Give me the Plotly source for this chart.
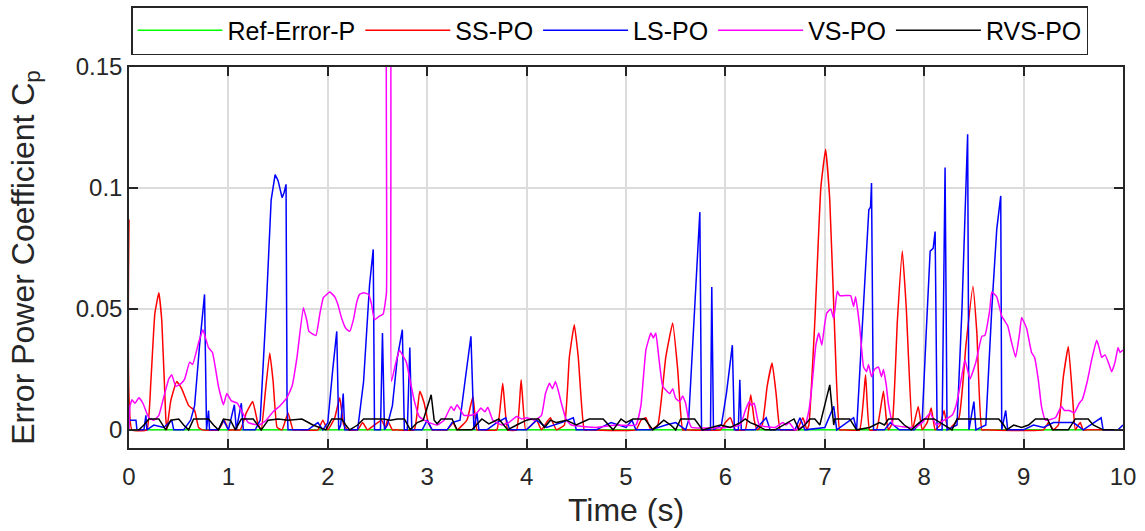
import plotly.graph_objects as go

# ---------------- data (time in s, error power coefficient Cp) ----------------
ref_t = [0.0, 10.0]
ref_v = [0.0, 0.0]

ss_t = [0, 0.03, 0.18, 0.22, 0.26, 0.30, 0.33, 0.37, 0.38, 0.42, 0.48, 0.53, 0.6, 0.66, 0.7, 0.74, 0.9, 0.96, 1.0,
        1.04, 1.12, 1.18, 1.245, 1.3, 1.33, 1.37, 1.416, 1.45, 1.49, 1.54, 1.6, 1.65, 1.69, 1.9, 1.95, 2.0, 2.07,
        2.12, 2.16, 2.2, 2.3, 2.35, 2.4, 2.54, 2.58, 2.6, 2.65, 2.69, 2.87, 2.925, 2.97, 3.01, 3.05, 3.09, 3.2,
        3.26, 3.3, 3.4, 3.46, 3.5, 3.54, 3.7, 3.76, 3.81, 3.9, 3.945, 3.99, 4.05, 4.1, 4.15, 4.2, 4.24, 4.3, 4.38,
        4.43, 4.48, 4.52, 4.58, 4.62, 5.1, 5.15, 5.2, 5.25, 5.32, 5.4, 5.47, 5.52, 5.57, 5.61, 5.95, 6.0, 6.05,
        6.1, 6.2, 6.255, 6.29, 6.32, 6.37, 6.42, 6.47, 6.51, 6.55, 6.59, 6.72, 6.78, 6.82, 6.84, 6.9, 6.96, 7.008,
        7.05, 7.1, 7.15, 7.19, 7.35, 7.41, 7.45, 7.52, 7.59, 7.62, 7.64, 7.68, 7.73, 7.78, 7.82, 7.88, 7.9, 7.94,
        7.98, 8.03, 8.07, 8.11, 8.16, 8.2, 8.24, 8.35, 8.42, 8.49, 8.53, 8.58, 8.62, 9.2, 9.25, 9.3, 9.35, 9.4,
        9.45, 9.49, 9.52, 9.55, 9.57, 9.6, 9.64, 10.0]
ss_v = [0.087, 0.0, 0.0, 0.02, 0.048, 0.0567, 0.045, 0.005, 0.0, 0.012, 0.020, 0.017, 0.010, 0.008, 0.001, 0.0, 0.0, 0.004,
        0.0, 0.0, 0.0, 0.007, 0.0117, 0.002, 0.0, 0.015, 0.0318, 0.02, 0.001, 0.0, 0.007, 0.0, 0.0, 0.0, 0.004, 0.0, 0.005,
        0.0133, 0.002, 0.0, 0.0, 0.003, 0.0, 0.004, 0.001, 0.004, 0.0, 0.0, 0.0, 0.016, 0.011, 0.003, 0.0, 0.0, 0.0,
        0.003, 0.0, 0.004, 0.0138, 0.0, 0.0, 0.0, 0.0193, 0.0, 0.0, 0.0207, 0.0, 0.002, 0.004, 0.0, 0.003, 0.005, 0.0, 0.002,
        0.03, 0.0435, 0.03, 0.0, 0.0, 0.0, 0.004, 0.005, 0.0, 0.002, 0.03, 0.0442, 0.025, 0.0, 0.0, 0.0, 0.003, 0.005,
        0.0, 0.0, 0.0145, 0.004, 0.0, 0.002, 0.018, 0.0276, 0.015, 0.0, 0.0, 0.0, 0.005, 0.0, 0.002, 0.045, 0.1, 0.116,
        0.095, 0.04, 0.0, 0.0, 0.0, 0.0228, 0.0, 0.0, 0.016, 0.004, 0.0, 0.003, 0.045, 0.0739, 0.05, 0.0, 0.003, 0.0097,
        0.0, 0.003, 0.009, 0.0, 0.002, 0.008, 0.0, 0.005, 0.035, 0.0594, 0.04, 0.0, 0.0, 0.0, 0.003, 0.0, 0.002, 0.022,
        0.0345, 0.015, 0.0, 0.002, 0.003, 0.0, 0.0, 0.0]

ls_t = [0, 0.07, 0.08, 0.15, 0.17, 0.18, 0.25, 0.35, 0.43, 0.45, 0.55, 0.62, 0.66, 0.71, 0.76, 0.78, 0.8, 0.81,
        0.9, 0.95, 1.0, 1.06, 1.08, 1.13, 1.15, 1.27, 1.32, 1.38, 1.43, 1.47, 1.5, 1.54, 1.56, 1.58, 1.59, 1.6,
        1.8, 1.9, 1.95, 2.0, 2.05, 2.09, 2.11, 2.13, 2.155, 2.17, 2.3, 2.36, 2.42, 2.457, 2.47, 2.53, 2.55, 2.57,
        2.6, 2.65, 2.7, 2.75, 2.77, 2.8, 2.825, 2.845, 2.95, 3.0, 3.05, 3.2, 3.25, 3.33, 3.38, 3.44, 3.47, 3.5,
        3.52, 3.6, 3.7, 3.79, 3.83, 4.0, 4.1, 4.2, 4.35, 4.47, 4.5, 4.7, 4.85, 5.0, 5.06, 5.1, 5.25, 5.4, 5.5,
        5.6, 5.63, 5.68, 5.743, 5.76, 5.85, 5.863, 5.88, 5.96, 6.01, 6.07, 6.09, 6.13, 6.145, 6.16, 6.3, 6.41,
        6.45, 6.7, 6.75, 6.8, 7.0, 7.09, 7.12, 7.29, 7.32, 7.36, 7.41, 7.443, 7.46, 7.47, 7.49, 7.6, 7.66, 7.75,
        7.9, 7.98, 8.02, 8.06, 8.09, 8.11, 8.13, 8.18, 8.21, 8.23, 8.33, 8.38, 8.437, 8.45, 8.5, 8.52, 8.62,
        8.68, 8.73, 8.77, 8.78, 8.82, 8.84, 9.0, 9.1, 9.2, 9.3, 9.5, 9.6, 9.78, 9.8, 9.95, 10.0]
ls_v = [0.004, 0.004, 0.0, 0.0, 0.006, 0.0, 0.002, 0.001, 0.004, 0.0, 0.0, 0.004, 0.01, 0.035, 0.056, 0.0, 0.008, 0.0,
        0.0, 0.004, 0.0, 0.0104, 0.0, 0.011, 0.0, 0.0, 0.004, 0.05, 0.095, 0.1055, 0.103, 0.096, 0.098, 0.1015, 0.01, 0.0,
        0.0, 0.003, 0.0, 0.003, 0.025, 0.0407, 0.0, 0.002, 0.015, 0.0, 0.0, 0.02, 0.06, 0.0746, 0.0, 0.0, 0.040, 0.0,
        0.002, 0.01, 0.03, 0.0414, 0.0, 0.0, 0.034, 0.0, 0.0, 0.004, 0.0, 0.0, 0.003, 0.004, 0.02, 0.0387, 0.0, 0.007,
        0.0, 0.0, 0.003, 0.005, 0.0, 0.0, 0.004, 0.001, 0.003, 0.005, 0.0, 0.0, 0.003, 0.001, 0.004, 0.0, 0.0, 0.002, 0.003,
        0.0, 0.004, 0.04, 0.090, 0.0, 0.0, 0.059, 0.0, 0.002, 0.015, 0.035, 0.0, 0.0, 0.0207, 0.0, 0.0, 0.005,
        0.0, 0.0, 0.005, 0.0, 0.001, 0.0097, 0.0, 0.005, 0.0, 0.03, 0.07, 0.091, 0.092, 0.102, 0.0, 0.0, 0.003, 0.0,
        0.0, 0.004, 0.04, 0.0739, 0.075, 0.082, 0.0, 0.0, 0.1085, 0.0, 0.002, 0.05, 0.1222, 0.0, 0.0117, 0.0, 0.002,
        0.05, 0.083, 0.0967, 0.0, 0.008, 0.0, 0.0, 0.002, 0.001, 0.003, 0.003, 0.0, 0.005, 0.0, 0.0, 0.002]

vs_t = [0, 0.01, 0.03, 0.06, 0.1, 0.14, 0.2, 0.25, 0.3, 0.34, 0.4, 0.43, 0.47, 0.52, 0.56, 0.61, 0.64, 0.7, 0.743,
        0.77, 0.80, 0.84, 0.9, 0.95, 0.984, 1.03, 1.09, 1.13, 1.2, 1.31, 1.38, 1.45, 1.52, 1.59, 1.64, 1.69, 1.754,
        1.79, 1.81, 1.88, 1.92, 1.955, 1.99, 2.02, 2.07, 2.1, 2.14, 2.18, 2.22, 2.26, 2.29, 2.32, 2.36, 2.41, 2.44,
        2.47, 2.52, 2.557, 2.59, 2.6, 2.62, 2.64, 2.68, 2.72, 2.75, 2.79, 2.83, 2.87, 2.92, 2.97, 3.02, 3.1, 3.17,
        3.24, 3.27, 3.3, 3.37, 3.44, 3.5, 3.54, 3.58, 3.61, 3.66, 3.75, 3.82, 3.9, 3.95, 4.0, 4.08, 4.15, 4.19,
        4.23, 4.26, 4.29, 4.32, 4.35, 4.4, 4.45, 4.7, 4.9, 5.1, 5.15, 5.2, 5.25, 5.275, 5.30, 5.33, 5.37, 5.44,
        5.47, 5.5, 5.54, 5.57, 5.6, 5.63, 5.66, 6.0, 6.15, 6.2, 6.24, 6.26, 6.29, 6.34, 6.5, 6.58, 6.61, 6.64,
        6.7, 6.8, 6.84, 6.87, 6.91, 6.94, 6.97, 7.0, 7.02, 7.06, 7.09, 7.125, 7.15, 7.2, 7.26, 7.29, 7.31, 7.35,
        7.39, 7.42, 7.44, 7.47, 7.5, 7.54, 7.57, 7.59, 7.62, 7.64, 7.69, 7.91, 7.98, 8.06, 8.12, 8.2, 8.28, 8.32,
        8.36, 8.41, 8.46, 8.52, 8.58, 8.61, 8.66, 8.68, 8.73, 8.78, 8.84, 8.88, 8.92, 8.96, 8.98, 9.03, 9.08,
        9.11, 9.15, 9.18, 9.22, 9.32, 9.38, 9.41, 9.46, 9.51, 9.56, 9.59, 9.64, 9.685, 9.735, 9.76, 9.785, 9.82,
        9.86, 9.886, 9.92, 9.95, 9.97, 10.0]
vs_v = [0.0, 0.01, 0.0124, 0.011, 0.0133, 0.011, 0.005, 0.004, 0.006, 0.012, 0.021, 0.0228, 0.018, 0.019, 0.021, 0.028,
        0.027, 0.036, 0.0414, 0.038, 0.034, 0.032, 0.018, 0.0104, 0.015, 0.012, 0.011, 0.008, 0.003, 0.002, 0.004, 0.0075,
        0.01, 0.0134, 0.018, 0.030, 0.0505, 0.045, 0.0407, 0.039, 0.048, 0.0547, 0.056, 0.057, 0.055, 0.052, 0.046, 0.042,
        0.0407, 0.046, 0.0526, 0.056, 0.0567, 0.056, 0.052, 0.0455, 0.047, 0.0479, 0.0567, 0.2, 0.2, 0.020, 0.027, 0.033,
        0.031, 0.028, 0.02, 0.012, 0.0055, 0.004, 0.003, 0.002, 0.004, 0.0097, 0.008, 0.0104, 0.006, 0.006, 0.007, 0.009,
        0.0075, 0.0093, 0.004, 0.002, 0.003, 0.0055, 0.0045, 0.005, 0.004, 0.006, 0.015, 0.0193, 0.017, 0.020, 0.016,
        0.011, 0.004, 0.002, 0.001, 0.002, 0.002, 0.01, 0.033, 0.040, 0.038, 0.040, 0.03, 0.018, 0.015, 0.017, 0.013,
        0.0117, 0.014, 0.011, 0.004, 0.001, 0.001, 0.002, 0.008, 0.0117, 0.01, 0.011, 0.002, 0.001, 0.003, 0.002, 0.003,
        0.0, 0.002, 0.008, 0.018, 0.035, 0.040, 0.035, 0.044, 0.0483, 0.050, 0.046, 0.0573, 0.0555, 0.0555, 0.0555, 0.051,
        0.055, 0.043, 0.026, 0.024, 0.027, 0.022, 0.025, 0.026, 0.022, 0.025, 0.018, 0.0106, 0.002, 0.001, 0.003, 0.007,
        0.002, 0.004, 0.006, 0.01, 0.018, 0.029, 0.021, 0.028, 0.0387, 0.039, 0.0497, 0.057, 0.055, 0.047, 0.043, 0.036,
        0.030, 0.04, 0.0465, 0.042, 0.032, 0.030, 0.02, 0.0097, 0.004, 0.005, 0.0097, 0.008, 0.008, 0.007, 0.011, 0.0125,
        0.02, 0.029, 0.037, 0.034, 0.030, 0.031, 0.027, 0.024, 0.028, 0.034, 0.032, 0.033]

rvs_t = [0, 0.1, 0.15, 0.2, 0.3, 0.34, 0.37, 0.42, 0.5, 0.55, 0.6, 0.65, 0.8, 0.85, 0.9, 0.95, 1.02, 1.07, 1.13,
         1.25, 1.29, 1.33, 1.4, 1.5, 1.6, 1.74, 1.85, 1.98, 2.04, 2.14, 2.18, 2.22, 2.3, 2.36, 2.56, 2.63, 2.7,
         2.77, 2.83, 2.9, 2.96, 3.01, 3.04, 3.07, 3.1, 3.14, 3.25, 3.3, 3.45, 3.55, 3.62, 3.72, 3.81, 3.9, 4.0,
         4.05, 4.12, 4.18, 4.24, 4.3, 4.4, 4.5, 4.6, 4.63, 4.77, 4.87, 4.95, 5.0, 5.07, 5.19, 5.27, 5.38, 5.45,
         5.5, 5.55, 5.69, 5.77, 5.85, 5.95, 6.05, 6.15, 6.2, 6.25, 6.31, 6.4, 6.5, 6.62, 6.69, 6.74, 6.8, 6.85,
         6.9, 6.95, 7.0, 7.05, 7.08, 7.09, 7.1, 7.25, 7.32, 7.45, 7.55, 7.6, 7.64, 7.74, 7.8, 7.87, 7.95, 8.0,
         8.1, 8.2, 8.28, 8.33, 8.75, 8.8, 8.83, 8.9, 8.98, 9.05, 9.12, 9.24, 9.29, 9.45, 9.52, 9.65, 9.7, 9.8, 10.0]
rvs_v = [0.0, 0.0, 0.002, 0.0045, 0.0045, 0.002, 0.0, 0.004, 0.0045, 0.002, 0.0, 0.0045, 0.0045, 0.002, 0.0, 0.0045,
         0.004, 0.0, 0.0045, 0.0045, 0.002, 0.0, 0.004, 0.0045, 0.004, 0.0045, 0.002, 0.0, 0.0045, 0.0045, 0.002, 0.0,
         0.002, 0.0045, 0.0045, 0.004, 0.0045, 0.0045, 0.0, 0.003, 0.004, 0.01, 0.0145, 0.004, 0.0025, 0.0045, 0.0045,
         0.0, 0.0, 0.0045, 0.0025, 0.0045, 0.0, 0.002, 0.004, 0.0045, 0.0045, 0.001, 0.004, 0.003, 0.004, 0.002, 0.004,
         0.0045, 0.0045, 0.0, 0.0045, 0.003, 0.0045, 0.0045, 0.0, 0.004, 0.002, 0.0, 0.0045, 0.0045, 0.0, 0.001, 0.002,
         0.001, 0.003, 0.0045, 0.003, 0.002, 0.0, 0.0, 0.003, 0.0045, 0.0, 0.002, 0.0045, 0.0045, 0.002, 0.01, 0.0186,
         0.006, 0.002, 0.0045, 0.0045, 0.0, 0.001, 0.003, 0.002, 0.0045, 0.0045, 0.002, 0.0, 0.003, 0.0045, 0.0045, 0.002,
         0.0, 0.0045, 0.0045, 0.002, 0.0, 0.002, 0.001, 0.002, 0.0045, 0.0045, 0.0, 0.0, 0.0045, 0.0045, 0.002, 0.0, 0.0]

series = [
    ("Ref-Error-P", ref_t, ref_v, "#00ff00", "linear"),
    ("SS-PO", ss_t, ss_v, "#ff0000", "spline"),
    ("LS-PO", ls_t, ls_v, "#0000ff", "linear"),
    ("VS-PO", vs_t, vs_v, "#ff00ff", "spline"),
    ("RVS-PO", rvs_t, rvs_v, "#000000", "linear"),
]

xticks = list(range(0, 11))
yticks = [0, 0.05, 0.1, 0.15]
yticklabels = ["0", "0.05", "0.1", "0.15"]

FONT = "Liberation Sans, Arial, Helvetica, sans-serif"
AX = "#262626"

fig = go.Figure()
for name, t, v, c, shape in series:
    line = dict(color=c, width=1.5, shape=shape)
    if shape == "spline":
        line["smoothing"] = 0.35
    fig.add_trace(go.Scatter(x=t, y=v, mode="lines", name=name, line=line))

axis_common = dict(
    showline=True, linecolor=AX, linewidth=1.5, mirror="allticks",
    ticks="inside", ticklen=9, tickwidth=1.5, tickcolor=AX,
    showgrid=True, gridcolor="#dcdcdc", gridwidth=1.5, zeroline=False,
    tickfont=dict(family=FONT, size=24, color=AX), automargin=False,
)

fig.update_layout(
    width=1145, height=531,
    margin=dict(l=129, r=22, t=67, b=83, autoexpand=False),
    paper_bgcolor="white", plot_bgcolor="white",
    font=dict(family=FONT, color=AX),
    xaxis=dict(range=[0, 10], tickvals=xticks, ticklabelstandoff=6,
               title=dict(text="Time (s)", font=dict(family=FONT, size=32, color=AX), standoff=10),
               **axis_common),
    yaxis=dict(range=[-0.0075, 0.15], tickvals=yticks, ticktext=yticklabels,
               title=dict(text="Error Power Coefficient C<sub>p</sub>",
                          font=dict(family=FONT, size=32, color=AX), standoff=32),
               **axis_common),
    legend=dict(orientation="h", xref="container", yref="container",
                x=131 / 1145, xanchor="left", y=1 - 6 / 531, yanchor="top",
                font=dict(family=FONT, size=25, color="#000000"),
                bordercolor=AX, borderwidth=1.5, bgcolor="white",
                itemwidth=85),
    showlegend=True,
)

fig.write_html("out.html")
